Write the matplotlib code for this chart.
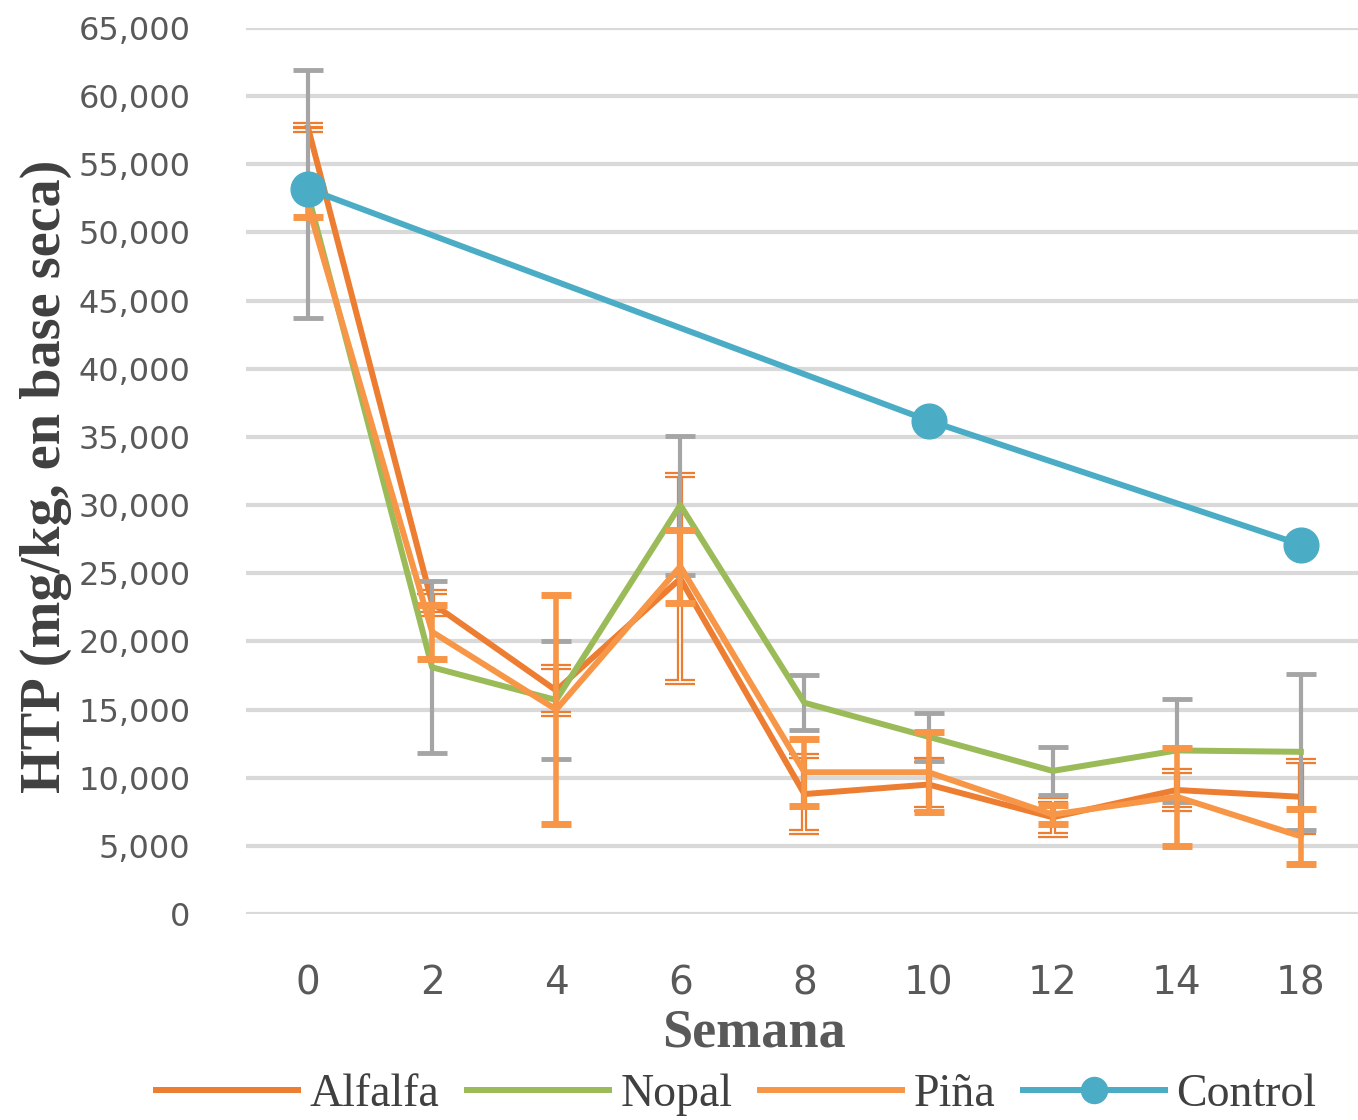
import numpy as np
import matplotlib
matplotlib.use("Agg")
import matplotlib.pyplot as plt
from matplotlib.ticker import FuncFormatter

weeks = ["0", "2", "4", "6", "8", "10", "12", "14", "18"]

alfalfa = [57700, 22800, 16400, 24600, 8800, 9500, 7100, 9100, 8600]
alfalfa_err = [200, 800, 1700, 7600, 2800, 1800, 1300, 1400, 2600]

nopal = [52800, 18100, 15700, 30000, 15500, 13000, 10500, 12000, 11900]
nopal_err = [9100, 6300, 4300, 5100, 2000, 1750, 1750, 3800, 5700]

pina = [52000, 20700, 15000, 25500, 10400, 10400, 7300, 8600, 5700]
pina_err = [900, 2000, 8400, 2700, 2450, 2950, 700, 3600, 2000]

control_weeks = ["0", "10", "18"]
control = [53200, 36200, 27100]

c_alf = "#ED7D31"
c_nop = "#9BBB59"
c_pin = "#F79646"
c_con = "#4BACC6"
c_err = "#A5A5A5"

fig = plt.figure(figsize=(13.58, 11.2), dpi=100)
ax = fig.add_axes([0.1811, 0.1839, 0.8225, 0.7911])

x = np.arange(len(weeks))
cx = [weeks.index(w) for w in control_weeks]

lw = 4.3
cap = 11

# Alfalfa (double-line error bars)
ax.errorbar(x, alfalfa, yerr=alfalfa_err, fmt="none", ecolor=c_alf, elinewidth=4.5,
            capsize=cap, capthick=4.5, zorder=3)
ax.errorbar(x, alfalfa, yerr=alfalfa_err, fmt="none", ecolor="white", elinewidth=1.3,
            capsize=cap, capthick=1.3, zorder=3.1)
ax.plot(x, alfalfa, color=c_alf, lw=lw, label="Alfalfa", zorder=3.2)

# Nopal
ax.errorbar(x, nopal, yerr=nopal_err, fmt="none", ecolor=c_err, elinewidth=3,
            capsize=cap, capthick=3.5, zorder=4)
ax.plot(x, nopal, color=c_nop, lw=lw, label="Nopal", zorder=4.2)

# Piña
ax.errorbar(x, pina, yerr=pina_err, fmt="none", ecolor=c_pin, elinewidth=4,
            capsize=cap, capthick=5, zorder=5)
ax.plot(x, pina, color=c_pin, lw=lw, label="Piña", zorder=5.2)

# Control
ax.plot(cx, control, color=c_con, lw=lw, marker="o", markersize=25,
        label="Control", zorder=6)

ax.set_xlim(-0.5, len(weeks) - 0.5)
ax.set_ylim(0, 65000)
ax.set_yticks(np.arange(0, 65001, 5000))
ax.yaxis.set_major_formatter(FuncFormatter(lambda v, p: f"{int(v):,}"))
ax.set_xticks(x)
ax.set_xticklabels(weeks)
ax.grid(axis="y", color="#D9D9D9", lw=3, zorder=0)
ax.set_axisbelow(True)
for s in ax.spines.values():
    s.set_visible(False)
ax.tick_params(axis="both", length=0, colors="#595959")
ax.tick_params(axis="y", labelsize=23, pad=40)
ax.tick_params(axis="x", labelsize=28, pad=36)

ax.set_ylabel("HTP (mg/kg, en base seca)", fontsize=40.5, fontweight="bold",
              family="Liberation Serif", color="#404040")
ax.yaxis.set_label_coords(-0.156, 0.494)
ax.set_xlabel("Semana", fontsize=39, fontweight="bold", family="Liberation Serif",
              color="#595959")
ax.xaxis.set_label_coords(0.4545, -0.107)

leg = fig.legend(loc="lower center", bbox_to_anchor=(0.542, -0.033), ncol=4,
                 frameon=False, prop={"family": "Liberation Serif", "size": 33},
                 handlelength=3.1, columnspacing=0.6, handletextpad=0.25,
                 markerscale=0.75)
for t in leg.get_texts():
    t.set_color("#404040")

fig.savefig("out.png", dpi=100)
